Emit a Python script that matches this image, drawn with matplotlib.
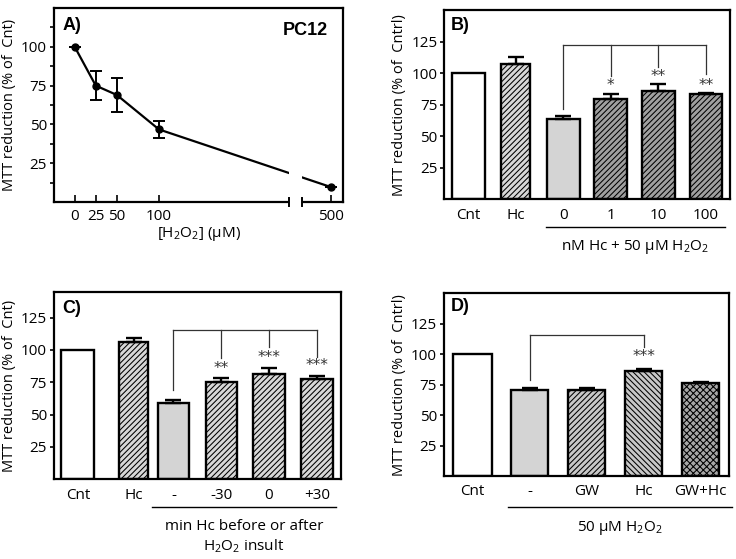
import numpy as np
import matplotlib
matplotlib.use('Agg')
import matplotlib.pyplot as plt
from matplotlib.patches import Rectangle

plt.rcParams['font.family'] = ['Open Sans', 'DejaVu Sans']
plt.rcParams['mathtext.fontset'] = 'custom'
plt.rcParams['mathtext.rm'] = 'Open Sans'
plt.rcParams['font.size'] = 11
plt.rcParams['hatch.linewidth'] = 0.75

# ---- data -------------------------------------------------------------
# A) H2O2 dose response
a_conc = [0, 25, 50, 100, 500]
a_mean = [100, 75, 69, 46.8, 9.7]
a_err = [0, 9.5, 10.8, 5.5, 0]

# B) Hc dose + 50 uM H2O2
b_labels = ['Cnt', 'Hc', '0', '1', '10', '100']
b_mean = [100, 107, 63.6, 79.4, 86, 83.4]
b_err = [0, 5.5, 2.6, 3.8, 5.4, 0.6]
b_stars = ['', '', '', '*', '**', '**']

# C) time of Hc addition
c_labels = ['Cnt', 'Hc', '-', '-30', '0', '+30']
c_mean = [100, 106.1, 59, 75, 81.2, 77.5]
c_err = [0, 3.4, 2.5, 3, 4.6, 2.6]
c_stars = ['', '', '', '**', '***', '***']

# D) GW / Hc + 50 uM H2O2
d_labels = ['Cnt', '-', 'GW', 'Hc', 'GW+Hc']
d_mean = [100, 70.2, 70.4, 86.6, 76.4]
d_err = [0, 2.4, 1.6, 1.6, 0.8]
d_stars = ['', '', '', '***', '']

TICK = 11
LAB = 10.5

# ---- helpers ----------------------------------------------------------
def xpos(c):
    # broken x axis: linear up to 100, compressed afterwards
    c = np.asarray(c, dtype=float)
    return np.where(c <= 100, c, 100 + (c - 100) * 0.51)


def style_bar_axis(ax, ymax):
    ax.set_ylim(0, ymax)
    ax.set_yticks([25, 50, 75, 100, 125])
    for s in ax.spines.values():
        s.set_linewidth(1.6)
    ax.tick_params(axis='y', direction='out', length=3, width=1.2, pad=2, labelsize=TICK)
    ax.tick_params(axis='x', length=0, pad=6, labelsize=TICK)


def draw_bars(ax, labels, mean, err, xs, widths, faces, hatches):
    for i in range(len(labels)):
        ax.bar(xs[i], mean[i], width=widths[i], color=faces[i], hatch=hatches[i],
               edgecolor='black', linewidth=1.7, zorder=2)
        if err[i] > 0:
            ax.errorbar(xs[i], mean[i], yerr=[[0], [err[i]]], fmt='none', ecolor='black',
                        elinewidth=1.7, capsize=6, capthick=1.7, zorder=3)
    ax.set_xticks(xs)
    ax.set_xticklabels(labels)


def bracket(ax, xs, y_top, y_ends):
    ax.plot([xs[0], xs[-1]], [y_top, y_top], color='#333333', lw=0.9, zorder=1)
    for x, ye in zip(xs, y_ends):
        ax.plot([x, x], [y_top, ye], color='#333333', lw=0.9, zorder=1)


def stars(ax, xs, texts, ys):
    for x, t, y in zip(xs, texts, ys):
        if t:
            ax.text(x, y, t, ha='center', va='center', fontsize=11,
                    family='DejaVu Sans', color='#333333')


def group_line(ax, x0, x1, y, text, ty):
    ax.plot([x0, x1], [y, y], color='black', lw=1.0, clip_on=False,
            transform=ax.get_xaxis_transform())
    ax.text((x0 + x1) / 2, ty, text, ha='center', va='center', fontsize=TICK,
            transform=ax.get_xaxis_transform(), linespacing=1.25)


def panel_tag(ax, tag, x, y):
    ax.text(x, y, tag, transform=ax.transAxes, fontsize=13, fontweight='bold',
            family='Liberation Sans', va='center')


fig = plt.figure(figsize=(7.36, 5.59), dpi=100)

# ---- A ----------------------------------------------------------------
axA = fig.add_axes([0.0734, 0.6386, 0.393, 0.347])
ux = xpos(a_conc)
axA.plot(ux, a_mean, color='black', lw=1.6, zorder=2)
axA.errorbar(ux, a_mean, yerr=a_err, fmt='o', color='black', ms=5,
             elinewidth=1.4, capsize=4, capthick=1.4, zorder=3)
axA.set_xlim(-24.6, 319)
axA.set_ylim(0, 125)
axA.set_xticks(ux)
axA.set_xticklabels([str(c) for c in a_conc])
axA.set_yticks([25, 50, 75, 100])
axA.set_yticks([12.5, 37.5, 62.5, 87.5, 112.5], minor=True)
for s in axA.spines.values():
    s.set_linewidth(1.6)
axA.tick_params(axis='x', direction='in', length=5, width=1.2, pad=5, labelsize=TICK)
axA.tick_params(axis='y', which='both', direction='out', length=3, width=1.2, pad=2, labelsize=TICK)
# axis break
brk0, brk1 = 254, 270
axA.add_patch(Rectangle((brk0, -4), brk1 - brk0, 45, facecolor='white',
                        edgecolor='none', zorder=4, clip_on=False))
for xb in (brk0, brk1):
    axA.plot([xb, xb], [-2.8, 2.8], color='black', lw=1.4, clip_on=False, zorder=5)
axA.set_xlabel('[H$_\\mathregular{2}$O$_\\mathregular{2}$] (µM)', fontsize=TICK, labelpad=1)
axA.set_ylabel('MTT reduction (% of  Cnt)', fontsize=LAB, labelpad=3)
panel_tag(axA, 'A)', 0.03, 0.91)
axA.text(0.948, 0.885, 'PC12', transform=axA.transAxes, fontsize=13, fontweight='bold',
         family='Liberation Sans', va='center', ha='right')

# ---- B ----------------------------------------------------------------
axB = fig.add_axes([0.6037, 0.6435, 0.3878, 0.3386])
xb = np.arange(len(b_labels))
dark = '#a0a0a0'
light = '#d8d8d8'
draw_bars(axB, b_labels, b_mean, b_err, xb, [0.69, 0.62, 0.69, 0.69, 0.68, 0.68],
          ['white', light, '#d4d4d4', dark, dark, dark],
          [None, '//////', None, '//////', '//////', '//////'])
style_bar_axis(axB, 150)
axB.set_xlim(-0.5, 5.5)
bracket(axB, xb[2:], 122.3, [71.5, 97.7, 105, 99.3])
stars(axB, xb, b_stars, [0, 0, 0, 90.5, 97.5, 90.5])
group_line(axB, 1.64, 5.39, -0.145, 'nM Hc + 50 µM H$_\\mathregular{2}$O$_\\mathregular{2}$', -0.25)
axB.set_ylabel('MTT reduction (% of  Cntrl)', fontsize=LAB, labelpad=3)
panel_tag(axB, 'B)', 0.023, 0.92)

# ---- C ----------------------------------------------------------------
axC = fig.add_axes([0.0734, 0.1426, 0.3895, 0.3356])
xc = [0, 1.17, 2, 3, 4, 5]
draw_bars(axC, c_labels, c_mean, c_err, xc, [0.69, 0.61, 0.66, 0.64, 0.66, 0.66],
          ['white', light, '#d4d4d4', light, light, light],
          [None, '//////', None, '//////', '//////', '//////'])
style_bar_axis(axC, 145)
axC.set_xlim(-0.5, 5.5)
bracket(axC, xc[2:], 115.4, [69, 93.5, 102.5, 94.8])
stars(axC, xc, c_stars, [0, 0, 0, 85.3, 94, 88.3])
group_line(axC, 1.55, 5.4, -0.15, 'min Hc before or after\nH$_\\mathregular{2}$O$_\\mathregular{2}$ insult', -0.306)
axC.set_ylabel('MTT reduction (% of  Cnt)', fontsize=LAB, labelpad=3)
panel_tag(axC, 'C)', 0.027, 0.91)

# ---- D ----------------------------------------------------------------
axD = fig.add_axes([0.6033, 0.1485, 0.3872, 0.3268])
xd = np.arange(len(d_labels))
draw_bars(axD, d_labels, d_mean, d_err, xd, [0.67, 0.66, 0.65, 0.65, 0.65],
          ['white', '#d4d4d4', '#c8c8c8', '#c8c8c8', '#a8a8a8'],
          [None, None, '//////', '\\\\\\\\\\\\', 'xxxxx'])
style_bar_axis(axD, 150)
axD.set_xlim(-0.5, 4.5)
bracket(axD, [xd[1], xd[3]], 115.8, [78.8, 106])
stars(axD, xd, d_stars, [0, 0, 0, 98, 0])
group_line(axD, 0.63, 4.55, -0.17, '50 µM H$_\\mathregular{2}$O$_\\mathregular{2}$', -0.286)
axD.set_ylabel('MTT reduction (% of  Cntrl)', fontsize=LAB, labelpad=3)
panel_tag(axD, 'D)', 0.023, 0.927)

fig.savefig('out.png', dpi=100)
